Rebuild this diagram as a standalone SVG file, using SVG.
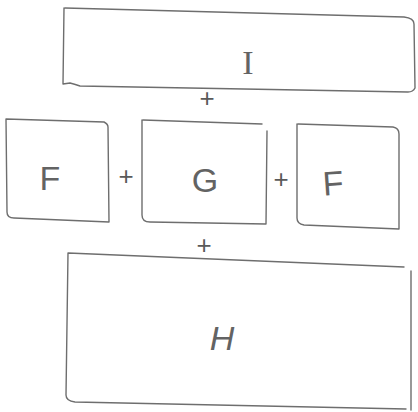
<svg xmlns="http://www.w3.org/2000/svg" width="418" height="412" viewBox="0 0 418 412">
<style>
.box{fill:none;stroke:#6e6e6e;stroke-width:1.4;stroke-linecap:round;stroke-linejoin:round}
.lbl{font-family:"Liberation Sans",Arial,sans-serif;font-size:34px;fill:#636363;text-anchor:middle}
.plus{font-family:"Liberation Sans",Arial,sans-serif;font-size:26px;fill:#5a5a5a;text-anchor:middle}
</style>
<rect width="418" height="412" fill="#ffffff"/>
<g id="node-I">
<path class="box" d="M65,8 L404,17 Q414,18 414,24 L415,88 Q413,92 408,92 L80,86 Q74,84 70,83 L63,84 L64,8"/>
<text class="lbl" x="248" y="74" style="font-family:'Liberation Serif',serif">I</text>
</g>
<g id="node-F1">
<path class="box" d="M6,119 L104,122 Q108,124 108,127 L109,222 L14,218 Q7,218 7,212 L6,119"/>
<text class="lbl" x="50" y="190">F</text>
</g>
<g id="node-G">
<path class="box" d="M143,120 L262,124 M267,131 L266,224 L150,222 Q142,222 142,215 L142,120"/>
<text class="lbl" x="205" y="192">G</text>
</g>
<g id="node-F2">
<path class="box" d="M298,124 L393,127 Q399,128 399,134 L399,229 L304,225 Q297,224 297,218 L297,124"/>
<text class="lbl" x="333" y="195" transform="rotate(-4 333 183)">F</text>
</g>
<g id="node-H">
<path class="box" d="M68,253 L404,267 M411,271 L411,410 M406,409 L75,402 Q66,401 66,395 L68,253"/>
<text class="lbl" x="222" y="350" style="font-style:italic">H</text>
</g>
<g id="connectors">
<text class="plus" x="207" y="107">+</text>
<text class="plus" x="126" y="185">+</text>
<text class="plus" x="281" y="188">+</text>
<text class="plus" x="204" y="254">+</text>
</g>
</svg>
